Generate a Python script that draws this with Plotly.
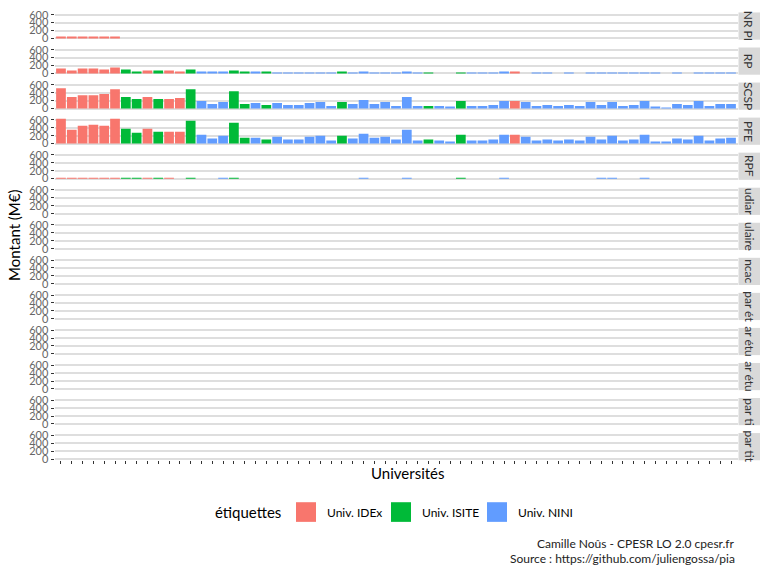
import plotly.graph_objects as go

# ---------------- data ----------------
n_univ = 63
universities = ["Université %02d" % (i + 1) for i in range(n_univ)]

# étiquette of each university (I = IDEx, S = ISITE, N = NINI)
etiquette_codes = list(
    "IIIIII" "SSISIIS" "NNN" "SS" "N" "S" "NNNNNN" "S" "NNNNNNN" "S" "NN" "S" "NNNN" "I"
    "NNNNNNNNNNNNNNNNNNNN"
)
code_to_label = {"I": "Univ. IDEx", "S": "Univ. ISITE", "N": "Univ. NINI"}
etiquettes = [code_to_label[c] for c in etiquette_codes]
labels_order = ["Univ. IDEx", "Univ. ISITE", "Univ. NINI"]
palette = {"Univ. IDEx": "#F8766D", "Univ. ISITE": "#00BA38", "Univ. NINI": "#619CFF"}

# facet labels (as visible, clipped in the strips)
facet_labels = ["NR PI", "RP", "SCSP", "PFE", "RPF", "udiar", "ulaire", "ncac",
                "par ét", "ar étu", "ar étu", "par ti", "par tit"]

NONE = None
v_nrpi = [50, 50, 25, 25, 25, 25] + [NONE] * 57
v_rp = [125, 75, 125, 125, 100, 150, 100, 50, 75, 75, 75, 50, 100, 25, 25, 25, 75, 25, 25, 25,
        20, 20, 20, 20, 20, 20, 25, 20, 50, 20, 20, 20, 50, 20, 20, 0, 0, 20, 20, 20,
        20, 50, 50, 0, 20, 20, 0, 20, 0, 20, 20, 20, 20, 20, 20, 20, 0, 20, 0, 20,
        20, 20, 20]
v_scsp = [510, 288, 337, 337, 370, 486, 288, 239, 288, 239, 239, 263, 486, 189, 115, 165, 436, 115, 140, 90,
          140, 90, 90, 140, 165, 66, 165, 115, 214, 115, 165, 66, 288, 66, 66, 66, 41, 189, 66, 66,
          90, 189, 189, 165, 66, 90, 66, 90, 66, 165, 90, 165, 66, 90, 189, 41, 16, 115, 90, 189,
          66, 115, 115]
v_pfe = [625, 350, 450, 475, 450, 625, 375, 275, 375, 300, 300, 300, 575, 225, 125, 200, 525, 150, 150, 100,
         175, 100, 100, 175, 200, 75, 200, 125, 250, 150, 175, 100, 350, 75, 100, 75, 50, 225, 75, 75,
         100, 225, 225, 175, 75, 100, 75, 100, 75, 175, 100, 200, 75, 100, 225, 50, 25, 125, 100, 200,
         75, 125, 150]
v_rpf = [15, 15, 15, 15, 15, 15, 15, 15, 15, 15, 15, 0, 15, 0, 0, 15, 15, 0, 0, 0,
         0, 0, 0, 0, 0, 0, 0, 0, 15, 0, 0, 0, 15, 0, 0, 0, 0, 15, 0, 0,
         0, 15, 0, 0, 0, 0, 0, 0, 0, 0, 15, 15, 0, 0, 15, 0, 0, 0, 0, 0,
         0, 0, 0]
v_empty = [NONE] * n_univ
facet_values = [v_nrpi, v_rp, v_scsp, v_pfe, v_rpf] + [v_empty] * 8

y_ticks = [0, 200, 400, 600]
y_max = 625

# ---------------- layout geometry (pixels) ----------------
W, H = 768, 576
FONT = "Lato"
px_left, px_right = 54.5, 737.5
strip_l, strip_r = 738.5, 760
y_lo, y_hi = -0.05 * y_max, 1.05 * y_max
px_per_unit = 8.05 / 200.0
panel_h = (y_hi - y_lo) * px_per_unit


def fx(p):
    return p / W


def fy(p):
    return 1 - p / H


def text_ann(x, y, text, size, color="#000", xanchor="center", angle=0):
    return dict(xref="paper", yref="paper", x=fx(x), y=fy(y), text=text, showarrow=False,
                xanchor=xanchor, yanchor="middle", textangle=angle,
                font=dict(family=FONT, size=size, color=color))


fig = go.Figure()
layout_axes = {}
shapes = []
annotations = []

for k, (lab, vals) in enumerate(zip(facet_labels, facet_values)):
    idx = k + 1
    zero_px = 34 + 35.67 * k
    bottom = zero_px + (0 - y_lo) * px_per_unit
    top = bottom - panel_h
    xa = "x" if idx == 1 else "x%d" % idx
    ya = "y" if idx == 1 else "y%d" % idx
    for lbl in labels_order:
        xs = [u for u, e in zip(universities, etiquettes) if e == lbl]
        ys = [v for v, e in zip(vals, etiquettes) if e == lbl]
        fig.add_trace(go.Bar(
            x=xs, y=ys, xaxis=xa, yaxis=ya, name=lbl,
            marker=dict(color=palette[lbl], line=dict(width=0)),
            showlegend=False, hoverinfo="x+y",
        ))
    last = (idx == len(facet_labels))
    layout_axes["xaxis" if idx == 1 else "xaxis%d" % idx] = dict(
        domain=[fx(px_left), fx(px_right)], anchor=ya,
        type="category", categoryorder="array", categoryarray=universities,
        range=[-0.6, n_univ - 0.4], showgrid=False, zeroline=False, showline=False,
        tickmode="array", tickvals=universities, ticktext=[""] * n_univ,
        ticks="outside" if last else "", ticklen=3, tickwidth=1, tickcolor="#333333",
        showticklabels=False, fixedrange=True,
    )
    layout_axes["yaxis" if idx == 1 else "yaxis%d" % idx] = dict(
        domain=[fy(bottom), fy(top)], anchor=xa,
        range=[y_lo, y_hi], tickmode="array", tickvals=y_ticks,
        ticktext=[str(t) for t in y_ticks],
        showgrid=True, gridcolor="#DEDEDE", gridwidth=1.6,
        zeroline=False, showline=False,
        ticks="outside", ticklen=3, tickwidth=1, tickcolor="#333333",
        tickfont=dict(family=FONT, size=11, color="#666666"),
        fixedrange=True,
    )
    shapes.append(dict(type="rect", xref="paper", yref="paper",
                       x0=fx(strip_l), x1=fx(strip_r), y0=fy(bottom), y1=fy(top),
                       fillcolor="#D9D9D9", line=dict(width=0), layer="below"))
    annotations.append(text_ann((strip_l + strip_r) / 2, (top + bottom) / 2, lab, 12,
                                color="#333333", angle=90))

# axis titles
annotations.append(text_ann(14, 235, "Montant (M€)", 15, angle=-90))
annotations.append(text_ann(408, 476, "Universités", 15))

# legend (drawn by hand to mimic ggplot keys)
legend_y = 516
annotations.append(text_ann(213, legend_y, "étiquettes", 15, xanchor="left"))
key_x = [296, 391, 487]
for lbl, kx in zip(labels_order, key_x):
    shapes.append(dict(type="rect", xref="paper", yref="paper",
                       x0=fx(kx), x1=fx(kx + 20), y0=fy(legend_y + 10), y1=fy(legend_y - 10),
                       fillcolor=palette[lbl], line=dict(width=0)))
    annotations.append(text_ann(kx + 29, legend_y, lbl, 12, xanchor="left"))

# caption
annotations.append(text_ann(737, 548, "Camille Noûs - CPESR LO 2.0 cpesr.fr", 12,
                            color="#222", xanchor="right"))
annotations.append(text_ann(737, 563, "Source : https://github.com/juliengossa/pia", 12,
                            color="#222", xanchor="right"))

fig.update_layout(
    width=W, height=H, margin=dict(l=0, r=0, t=0, b=0),
    paper_bgcolor="white", plot_bgcolor="white",
    barmode="overlay", bargap=0.1, showlegend=False,
    shapes=shapes, annotations=annotations,
    font=dict(family=FONT),
    **layout_axes,
)

fig.write_html("out.html")
